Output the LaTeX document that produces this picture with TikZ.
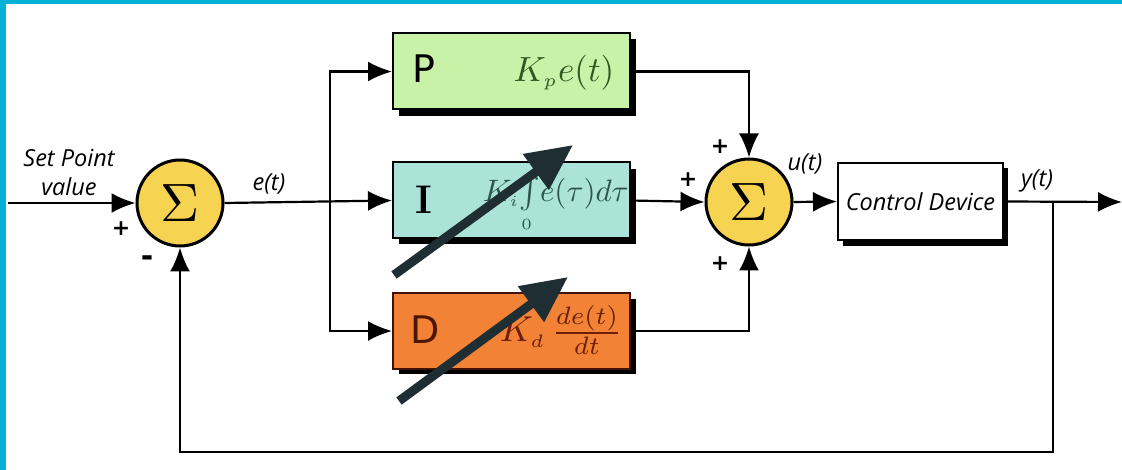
\documentclass[tikz,border=0pt]{standalone}
\usepackage{graphicx}
\usepackage{fontspec}
\newfontfamily\labelfont{Open Sans}
\newfontfamily\dejasans{DejaVu Sans}
\usetikzlibrary{arrows.meta}
\definecolor{frame}{HTML}{05B1D5}
\definecolor{pfill}{HTML}{C8F2A8}
\definecolor{ifill}{HTML}{ABE3D8}
\definecolor{dfill}{HTML}{F28236}
\definecolor{sfill}{HTML}{F7D352}
\definecolor{ptext}{HTML}{2E5A22}
\definecolor{itext}{HTML}{2D5550}
\definecolor{dtext}{HTML}{6B1F06}
\definecolor{annot}{HTML}{1F2E32}
\newcommand{\bigmath}[2]{\scalebox{#1}{$#2$}}
\tikzset{
  sumnode/.style={circle, draw=black, line width=3pt, fill=sfill, minimum size=86pt, inner sep=0pt},
  blockbox/.style={rectangle, draw=black, line width=2pt, minimum width=237pt, minimum height=76pt, inner sep=0pt},
  ctrlbox/.style={rectangle, draw=black, line width=2pt, fill=white, minimum width=165pt, minimum height=77pt, inner sep=0pt,
    font=\labelfont\itshape\fontsize{23.5}{23.5}\selectfont},
  sig/.style={line width=2.2pt, -{Latex[length=24pt,width=20pt]}},
  lbl/.style={font=\labelfont\itshape\fontsize{23.5}{23.5}\selectfont, inner sep=0pt},
  sign/.style={font=\dejasans\bfseries\fontsize{22}{22}\selectfont, inner sep=0pt},
  bigletter/.style={font=\dejasans\fontsize{38}{38}\selectfont, inner sep=0pt},
  formula/.style={inner sep=0pt},
  annotarrow/.style={annot, line width=9pt, -{Triangle[length=46pt,width=42pt]}},
}
\begin{document}
\begin{tikzpicture}[x=1pt,y=-1pt]
\useasboundingbox (0,0) rectangle (1122,470);
\fill[white] (0,0) rectangle (1122,470);
\fill[frame] (0,0) rectangle (1122,4);
\fill[frame] (0,0) rectangle (6,470);

% shadows
\fill[black] (399,39) rectangle (636,116);
\fill[black] (399,169) rectangle (636,244);
\fill[black] (399,299) rectangle (636,374);
\fill[black] (843,168) rectangle (1008,246);

% blocks
\node[blockbox, fill=pfill] (P) at (511.5,71.5) {};
\node[blockbox, fill=ifill] (I) at (511.5,200.5) {};
\node[blockbox, fill=dfill, draw=dtext!60!black] (D) at (511.5,331) {};
\node[ctrlbox] (ctrl) at (920.5,201.5) {Control Device};

\node[bigletter] (Pl) at (424,69) {P};
\node[inner sep=0pt, font=\rmfamily\bfseries\fontsize{40}{40}\selectfont] (Il) at (424,200) {I};
\node[bigletter, text=dtext!70!black] (Dl) at (425,330) {D};

\node[formula, text=ptext] (Pf) at (564,73) {\bigmath{3.5}{K_{\scriptscriptstyle p}e(t)}};
\node[formula, text=itext] (If) at (556,205) {\bigmath{3.1}{K_{\scriptscriptstyle i}\!\int\limits_{\scriptscriptstyle 0}\! e(\tau)d\tau}};
\node[formula, text=dtext] (Df) at (561,330) {\bigmath{3.6}{K_{\scriptscriptstyle d}\,\frac{de(t)}{dt}}};

% summing junctions
\node[sumnode] (s1) at (180,203) {\bigmath{5.4}{\Sigma}};
\node[sumnode] (s2) at (749,202) {\bigmath{5.4}{\Sigma}};

% coordinates
\coordinate (in) at (8,203);
\coordinate (br) at (330,203);
\coordinate (out) at (1122,202);
\coordinate (fb) at (1053,202);
\coordinate (fbb) at (1053,452);

% connectors
\draw[sig] (in) -- (s1.west);
\draw[sig] (s1.east) -- (I.west);
\draw[sig] (br) |- (P.west);
\draw[sig] (br) |- (D.west);
\draw[sig] (P.east) -| (s2.north);
\draw[sig] (I.east) -- (s2.west);
\draw[sig] (D.east) -| (s2.south);
\draw[sig] (s2.east) -- (ctrl.west);
\draw[sig] (ctrl.east) -- (out);
\draw[sig] (fb) -- (fbb) -| (s1.south);

% labels
\node[lbl] (sp1) at (69,158) {Set Point};
\node[lbl] (sp2) at (69,187) {value};
\node[sign] (pl1) at (121,229) {+};
\node[sign, font=\dejasans\bfseries\fontsize{30}{30}\selectfont] (mi1) at (147,261) {-};
\node[lbl] (et) at (269,184) {e(t)};
\node[sign] (pl2) at (720,147) {+};
\node[sign] (pl3) at (688,180) {+};
\node[sign] (pl4) at (720,264) {+};
\node[lbl] (ut) at (805,164) {u(t)};
\node[lbl] (yt) at (1037,181) {y(t)};

% annotation arrows
\coordinate (a1s) at (394,275);
\coordinate (a1e) at (573,145);
\coordinate (a2s) at (399,401);
\coordinate (a2e) at (568,277);
\draw[annotarrow] (a1s) -- (a1e);
\draw[annotarrow] (a2s) -- (a2e);
\end{tikzpicture}
\end{document}
